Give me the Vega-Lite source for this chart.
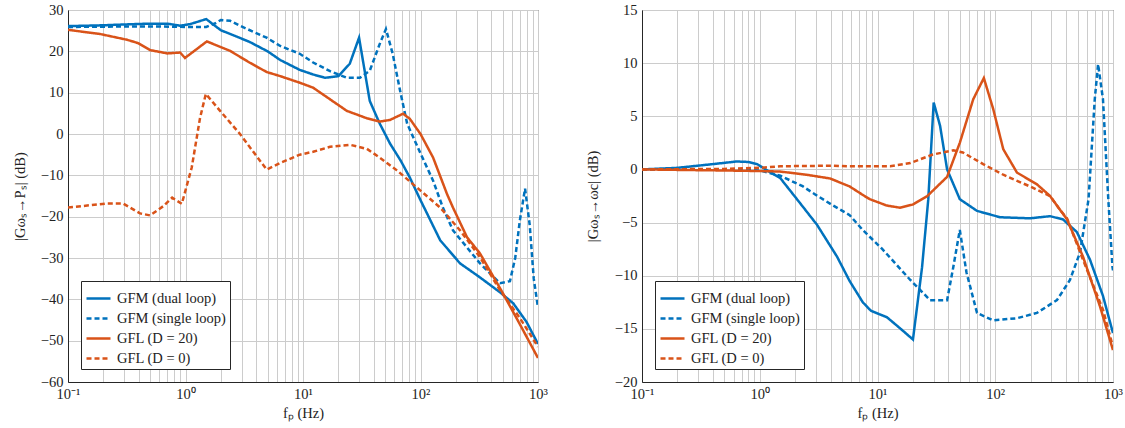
{
  "$schema": "https://vega.github.io/schema/vega-lite/v6.json",
  "background": "white",
  "autosize": {"type": "none"},
  "padding": {"left": 68, "top": 10, "right": 1057, "bottom": 418},
  "bounds": "flush",
  "spacing": 104,
  "config": {
    "font": "Liberation Serif",
    "view": {"stroke": "#262626", "strokeWidth": 1},
    "axis": {
      "labelFont": "Liberation Serif", "labelFontSize": 14.5, "labelColor": "#222222",
      "titleFont": "Liberation Serif", "titleFontSize": 14.5, "titleFontWeight": "normal", "titleColor": "#222222",
      "gridColor": "#cccccc", "gridWidth": 1, "gridOpacity": 1,
      "domainColor": "#262626", "ticks": false, "labelPadding": 5
    },
    "legend": {
      "orient": "bottom-left", "offset": 13, "padding": 4,
      "strokeColor": "#262626", "fillColor": "white", "cornerRadius": 0,
      "symbolType": "stroke", "symbolStrokeWidth": 3, "symbolSize": 576,
      "labelFont": "Liberation Serif", "labelFontSize": 14.5, "labelColor": "#222222",
      "labelOffset": 5, "rowPadding": -5, "title": null
    },
    "line": {"strokeWidth": 2.5}
  },
  "datasets": {
    "left": [
      {"series": "GFM (dual loop)", "f": 0.1, "db": 26.1},
      {"series": "GFM (dual loop)", "f": 0.2, "db": 26.3},
      {"series": "GFM (dual loop)", "f": 0.3, "db": 26.5},
      {"series": "GFM (dual loop)", "f": 0.5, "db": 26.7},
      {"series": "GFM (dual loop)", "f": 0.7, "db": 26.7},
      {"series": "GFM (dual loop)", "f": 0.9, "db": 26.2},
      {"series": "GFM (dual loop)", "f": 1.1, "db": 26.6},
      {"series": "GFM (dual loop)", "f": 1.5, "db": 27.8},
      {"series": "GFM (dual loop)", "f": 2.0, "db": 25.1},
      {"series": "GFM (dual loop)", "f": 2.5, "db": 24.0},
      {"series": "GFM (dual loop)", "f": 3.5, "db": 22.3},
      {"series": "GFM (dual loop)", "f": 5, "db": 20.0},
      {"series": "GFM (dual loop)", "f": 6.4, "db": 17.9},
      {"series": "GFM (dual loop)", "f": 9.4, "db": 15.5},
      {"series": "GFM (dual loop)", "f": 12.2, "db": 14.4},
      {"series": "GFM (dual loop)", "f": 15.4, "db": 13.6},
      {"series": "GFM (dual loop)", "f": 20, "db": 14.0},
      {"series": "GFM (dual loop)", "f": 25, "db": 17.0},
      {"series": "GFM (dual loop)", "f": 30, "db": 23.3},
      {"series": "GFM (dual loop)", "f": 37, "db": 8.0},
      {"series": "GFM (dual loop)", "f": 45, "db": 2.5},
      {"series": "GFM (dual loop)", "f": 55, "db": -2.3},
      {"series": "GFM (dual loop)", "f": 68, "db": -6.5},
      {"series": "GFM (dual loop)", "f": 81, "db": -10.5},
      {"series": "GFM (dual loop)", "f": 100, "db": -16},
      {"series": "GFM (dual loop)", "f": 147, "db": -25.7},
      {"series": "GFM (dual loop)", "f": 217, "db": -31.3},
      {"series": "GFM (dual loop)", "f": 321, "db": -34.7},
      {"series": "GFM (dual loop)", "f": 475, "db": -38.3},
      {"series": "GFM (dual loop)", "f": 617, "db": -41},
      {"series": "GFM (dual loop)", "f": 800, "db": -45.5},
      {"series": "GFM (dual loop)", "f": 1000, "db": -50.8},

      {"series": "GFM (single loop)", "f": 0.1, "db": 25.9},
      {"series": "GFM (single loop)", "f": 0.3, "db": 26.0},
      {"series": "GFM (single loop)", "f": 0.6, "db": 26.0},
      {"series": "GFM (single loop)", "f": 1.0, "db": 25.9},
      {"series": "GFM (single loop)", "f": 1.5, "db": 25.9},
      {"series": "GFM (single loop)", "f": 1.8, "db": 26.8},
      {"series": "GFM (single loop)", "f": 2.0, "db": 27.6},
      {"series": "GFM (single loop)", "f": 2.4, "db": 27.4},
      {"series": "GFM (single loop)", "f": 2.9, "db": 26.2},
      {"series": "GFM (single loop)", "f": 4.9, "db": 23.3},
      {"series": "GFM (single loop)", "f": 6.4, "db": 21.3},
      {"series": "GFM (single loop)", "f": 9.4, "db": 19.4},
      {"series": "GFM (single loop)", "f": 12.2, "db": 17.3},
      {"series": "GFM (single loop)", "f": 17, "db": 15.2},
      {"series": "GFM (single loop)", "f": 23.6, "db": 13.6},
      {"series": "GFM (single loop)", "f": 30.5, "db": 13.6},
      {"series": "GFM (single loop)", "f": 37, "db": 15.3},
      {"series": "GFM (single loop)", "f": 45, "db": 21.8},
      {"series": "GFM (single loop)", "f": 50.8, "db": 25.4},
      {"series": "GFM (single loop)", "f": 58, "db": 19.4},
      {"series": "GFM (single loop)", "f": 67, "db": 10.5},
      {"series": "GFM (single loop)", "f": 77, "db": 2.5},
      {"series": "GFM (single loop)", "f": 100, "db": -4.7},
      {"series": "GFM (single loop)", "f": 128, "db": -11.3},
      {"series": "GFM (single loop)", "f": 155, "db": -17.8},
      {"series": "GFM (single loop)", "f": 189, "db": -23.3},
      {"series": "GFM (single loop)", "f": 321, "db": -31.3},
      {"series": "GFM (single loop)", "f": 475, "db": -36.1},
      {"series": "GFM (single loop)", "f": 577, "db": -35.6},
      {"series": "GFM (single loop)", "f": 640, "db": -30},
      {"series": "GFM (single loop)", "f": 700, "db": -21},
      {"series": "GFM (single loop)", "f": 776, "db": -13.2},
      {"series": "GFM (single loop)", "f": 850, "db": -22},
      {"series": "GFM (single loop)", "f": 920, "db": -35},
      {"series": "GFM (single loop)", "f": 1000, "db": -42},

      {"series": "GFL (D = 20)", "f": 0.1, "db": 25.2},
      {"series": "GFL (D = 20)", "f": 0.187, "db": 24.2},
      {"series": "GFL (D = 20)", "f": 0.318, "db": 22.8},
      {"series": "GFL (D = 20)", "f": 0.394, "db": 22.0},
      {"series": "GFL (D = 20)", "f": 0.5, "db": 20.3},
      {"series": "GFL (D = 20)", "f": 0.7, "db": 19.5},
      {"series": "GFL (D = 20)", "f": 0.9, "db": 19.7},
      {"series": "GFL (D = 20)", "f": 0.99, "db": 18.4},
      {"series": "GFL (D = 20)", "f": 1.52, "db": 22.4},
      {"series": "GFL (D = 20)", "f": 2.4, "db": 20.1},
      {"series": "GFL (D = 20)", "f": 3.5, "db": 17.3},
      {"series": "GFL (D = 20)", "f": 4.9, "db": 15.0},
      {"series": "GFL (D = 20)", "f": 6.4, "db": 14.0},
      {"series": "GFL (D = 20)", "f": 9.4, "db": 12.4},
      {"series": "GFL (D = 20)", "f": 12.2, "db": 11.2},
      {"series": "GFL (D = 20)", "f": 23.6, "db": 5.6},
      {"series": "GFL (D = 20)", "f": 35, "db": 3.8},
      {"series": "GFL (D = 20)", "f": 45, "db": 3.0},
      {"series": "GFL (D = 20)", "f": 55, "db": 3.4},
      {"series": "GFL (D = 20)", "f": 71, "db": 4.9},
      {"series": "GFL (D = 20)", "f": 81, "db": 3.7},
      {"series": "GFL (D = 20)", "f": 100, "db": 0},
      {"series": "GFL (D = 20)", "f": 128, "db": -5.7},
      {"series": "GFL (D = 20)", "f": 168, "db": -14.5},
      {"series": "GFL (D = 20)", "f": 189, "db": -17.8},
      {"series": "GFL (D = 20)", "f": 249, "db": -25},
      {"series": "GFL (D = 20)", "f": 321, "db": -28.9},
      {"series": "GFL (D = 20)", "f": 502, "db": -38.5},
      {"series": "GFL (D = 20)", "f": 700, "db": -46},
      {"series": "GFL (D = 20)", "f": 1000, "db": -54.2},

      {"series": "GFL (D = 0)", "f": 0.1, "db": -17.8},
      {"series": "GFL (D = 0)", "f": 0.215, "db": -16.8},
      {"series": "GFL (D = 0)", "f": 0.294, "db": -16.8},
      {"series": "GFL (D = 0)", "f": 0.41, "db": -19.2},
      {"series": "GFL (D = 0)", "f": 0.5, "db": -19.7},
      {"series": "GFL (D = 0)", "f": 0.644, "db": -17.5},
      {"series": "GFL (D = 0)", "f": 0.77, "db": -15.4},
      {"series": "GFL (D = 0)", "f": 0.93, "db": -16.9},
      {"series": "GFL (D = 0)", "f": 1.13, "db": -8.1},
      {"series": "GFL (D = 0)", "f": 1.33, "db": 3.9},
      {"series": "GFL (D = 0)", "f": 1.49, "db": 9.7},
      {"series": "GFL (D = 0)", "f": 1.97, "db": 5.6},
      {"series": "GFL (D = 0)", "f": 2.91, "db": 0},
      {"series": "GFL (D = 0)", "f": 4.9, "db": -8.6},
      {"series": "GFL (D = 0)", "f": 6.4, "db": -7.0},
      {"series": "GFL (D = 0)", "f": 9.4, "db": -5.0},
      {"series": "GFL (D = 0)", "f": 12.2, "db": -4.3},
      {"series": "GFL (D = 0)", "f": 17, "db": -3.1},
      {"series": "GFL (D = 0)", "f": 25, "db": -2.6},
      {"series": "GFL (D = 0)", "f": 35, "db": -3.6},
      {"series": "GFL (D = 0)", "f": 45, "db": -5.7},
      {"series": "GFL (D = 0)", "f": 63, "db": -8.8},
      {"series": "GFL (D = 0)", "f": 100, "db": -13.7},
      {"series": "GFL (D = 0)", "f": 147, "db": -17.8},
      {"series": "GFL (D = 0)", "f": 217, "db": -23.3},
      {"series": "GFL (D = 0)", "f": 321, "db": -29.8},
      {"series": "GFL (D = 0)", "f": 475, "db": -37.8},
      {"series": "GFL (D = 0)", "f": 700, "db": -44.5},
      {"series": "GFL (D = 0)", "f": 1000, "db": -51.5}
    ],
    "right": [
      {"series": "GFM (dual loop)", "f": 0.1, "db": 0},
      {"series": "GFM (dual loop)", "f": 0.2, "db": 0.15},
      {"series": "GFM (dual loop)", "f": 0.4, "db": 0.5},
      {"series": "GFM (dual loop)", "f": 0.64, "db": 0.75},
      {"series": "GFM (dual loop)", "f": 0.8, "db": 0.7},
      {"series": "GFM (dual loop)", "f": 0.95, "db": 0.5},
      {"series": "GFM (dual loop)", "f": 1.2, "db": -0.2},
      {"series": "GFM (dual loop)", "f": 1.49, "db": -0.8},
      {"series": "GFM (dual loop)", "f": 2.07, "db": -2.8},
      {"series": "GFM (dual loop)", "f": 3.06, "db": -5.2},
      {"series": "GFM (dual loop)", "f": 4.53, "db": -8.2},
      {"series": "GFM (dual loop)", "f": 5.8, "db": -10.5},
      {"series": "GFM (dual loop)", "f": 7.5, "db": -12.5},
      {"series": "GFM (dual loop)", "f": 8.8, "db": -13.3},
      {"series": "GFM (dual loop)", "f": 12, "db": -13.9},
      {"series": "GFM (dual loop)", "f": 15, "db": -14.8},
      {"series": "GFM (dual loop)", "f": 20, "db": -16.0},
      {"series": "GFM (dual loop)", "f": 23.9, "db": -9.2},
      {"series": "GFM (dual loop)", "f": 27, "db": -2.8},
      {"series": "GFM (dual loop)", "f": 30, "db": 6.3},
      {"series": "GFM (dual loop)", "f": 34, "db": 4.1},
      {"series": "GFM (dual loop)", "f": 39, "db": 0},
      {"series": "GFM (dual loop)", "f": 50, "db": -2.8},
      {"series": "GFM (dual loop)", "f": 70, "db": -3.9},
      {"series": "GFM (dual loop)", "f": 110, "db": -4.5},
      {"series": "GFM (dual loop)", "f": 197, "db": -4.6},
      {"series": "GFM (dual loop)", "f": 292, "db": -4.4},
      {"series": "GFM (dual loop)", "f": 376, "db": -4.7},
      {"series": "GFM (dual loop)", "f": 494, "db": -5.9},
      {"series": "GFM (dual loop)", "f": 638, "db": -8.5},
      {"series": "GFM (dual loop)", "f": 822, "db": -11.9},
      {"series": "GFM (dual loop)", "f": 1000, "db": -15.4},

      {"series": "GFM (single loop)", "f": 0.1, "db": 0},
      {"series": "GFM (single loop)", "f": 0.5, "db": 0},
      {"series": "GFM (single loop)", "f": 1.0, "db": -0.1},
      {"series": "GFM (single loop)", "f": 1.5, "db": -0.6},
      {"series": "GFM (single loop)", "f": 2.33, "db": -1.6},
      {"series": "GFM (single loop)", "f": 3.0, "db": -2.4},
      {"series": "GFM (single loop)", "f": 4.2, "db": -3.4},
      {"series": "GFM (single loop)", "f": 5.8, "db": -4.3},
      {"series": "GFM (single loop)", "f": 7.5, "db": -5.7},
      {"series": "GFM (single loop)", "f": 11, "db": -7.5},
      {"series": "GFM (single loop)", "f": 19, "db": -10.4},
      {"series": "GFM (single loop)", "f": 28, "db": -12.3},
      {"series": "GFM (single loop)", "f": 39, "db": -12.3},
      {"series": "GFM (single loop)", "f": 44, "db": -9.2},
      {"series": "GFM (single loop)", "f": 50, "db": -5.7},
      {"series": "GFM (single loop)", "f": 57, "db": -9.7},
      {"series": "GFM (single loop)", "f": 70, "db": -13.5},
      {"series": "GFM (single loop)", "f": 96, "db": -14.2},
      {"series": "GFM (single loop)", "f": 153, "db": -14.0},
      {"series": "GFM (single loop)", "f": 226, "db": -13.5},
      {"series": "GFM (single loop)", "f": 334, "db": -12.3},
      {"series": "GFM (single loop)", "f": 431, "db": -10.4},
      {"series": "GFM (single loop)", "f": 525, "db": -7.8},
      {"series": "GFM (single loop)", "f": 620, "db": -2.8},
      {"series": "GFM (single loop)", "f": 700, "db": 6.6},
      {"series": "GFM (single loop)", "f": 747, "db": 9.9},
      {"series": "GFM (single loop)", "f": 822, "db": 6.6},
      {"series": "GFM (single loop)", "f": 912, "db": -2.8},
      {"series": "GFM (single loop)", "f": 990, "db": -9.2},
      {"series": "GFM (single loop)", "f": 1000, "db": -9.5},

      {"series": "GFL (D = 20)", "f": 0.1, "db": 0},
      {"series": "GFL (D = 20)", "f": 0.5, "db": -0.1},
      {"series": "GFL (D = 20)", "f": 1.0, "db": -0.15},
      {"series": "GFL (D = 20)", "f": 1.49, "db": -0.2},
      {"series": "GFL (D = 20)", "f": 2.5, "db": -0.5},
      {"series": "GFL (D = 20)", "f": 3.95, "db": -0.85},
      {"series": "GFL (D = 20)", "f": 5.8, "db": -1.6},
      {"series": "GFL (D = 20)", "f": 7.5, "db": -2.4},
      {"series": "GFL (D = 20)", "f": 8.6, "db": -2.8},
      {"series": "GFL (D = 20)", "f": 12, "db": -3.4},
      {"series": "GFL (D = 20)", "f": 15.5, "db": -3.6},
      {"series": "GFL (D = 20)", "f": 20, "db": -3.3},
      {"series": "GFL (D = 20)", "f": 26.5, "db": -2.5},
      {"series": "GFL (D = 20)", "f": 39, "db": -0.7},
      {"series": "GFL (D = 20)", "f": 50, "db": 2.5},
      {"series": "GFL (D = 20)", "f": 65, "db": 6.6},
      {"series": "GFL (D = 20)", "f": 80, "db": 8.6},
      {"series": "GFL (D = 20)", "f": 96, "db": 5.7},
      {"series": "GFL (D = 20)", "f": 117, "db": 1.9},
      {"series": "GFL (D = 20)", "f": 153, "db": -0.3},
      {"series": "GFL (D = 20)", "f": 226, "db": -1.4},
      {"series": "GFL (D = 20)", "f": 292, "db": -2.5},
      {"series": "GFL (D = 20)", "f": 355, "db": -3.8},
      {"series": "GFL (D = 20)", "f": 407, "db": -4.7},
      {"series": "GFL (D = 20)", "f": 556, "db": -8.2},
      {"series": "GFL (D = 20)", "f": 776, "db": -12.9},
      {"series": "GFL (D = 20)", "f": 1000, "db": -17},

      {"series": "GFL (D = 0)", "f": 0.1, "db": 0},
      {"series": "GFL (D = 0)", "f": 0.5, "db": 0.05},
      {"series": "GFL (D = 0)", "f": 1.0, "db": 0.15},
      {"series": "GFL (D = 0)", "f": 1.49, "db": 0.3},
      {"series": "GFL (D = 0)", "f": 4.2, "db": 0.35},
      {"series": "GFL (D = 0)", "f": 5.8, "db": 0.3},
      {"series": "GFL (D = 0)", "f": 12.8, "db": 0.3},
      {"series": "GFL (D = 0)", "f": 19, "db": 0.6},
      {"series": "GFL (D = 0)", "f": 29.5, "db": 1.4},
      {"series": "GFL (D = 0)", "f": 44, "db": 1.8},
      {"series": "GFL (D = 0)", "f": 53, "db": 1.6},
      {"series": "GFL (D = 0)", "f": 79, "db": 0.5},
      {"series": "GFL (D = 0)", "f": 117, "db": -0.5},
      {"series": "GFL (D = 0)", "f": 197, "db": -1.6},
      {"series": "GFL (D = 0)", "f": 292, "db": -2.5},
      {"series": "GFL (D = 0)", "f": 355, "db": -3.8},
      {"series": "GFL (D = 0)", "f": 407, "db": -4.6},
      {"series": "GFL (D = 0)", "f": 556, "db": -8.5},
      {"series": "GFL (D = 0)", "f": 822, "db": -13.2},
      {"series": "GFL (D = 0)", "f": 1000, "db": -16.7}
    ]
  },
  "resolve": {"scale": {"color": "independent", "strokeDash": "independent"}, "legend": {"color": "independent", "strokeDash": "independent"}},
  "hconcat": [
    {
      "width": 470, "height": 372,
      "data": {"name": "left"},
      "mark": {"type": "line", "strokeWidth": 2.5, "clip": true},
      "encoding": {
        "x": {"field": "f", "type": "quantitative",
          "scale": {"type": "log", "domain": [0.1, 1000], "nice": false},
          "axis": {"title": "fₚ (Hz)", "titleY": 24,
            "values": [0.1,0.2,0.3,0.4,0.5,0.6,0.7,0.8,0.9,1,2,3,4,5,6,7,8,9,10,20,30,40,50,60,70,80,90,100,200,300,400,500,600,700,800,900,1000],
            "labelExpr": "datum.value == 0.1 ? '10⁻¹' : datum.value == 1 ? '10⁰' : datum.value == 10 ? '10¹' : datum.value == 100 ? '10²' : datum.value == 1000 ? '10³' : ''",
            "labelOverlap": false, "labelFlush": false}},
        "y": {"field": "db", "type": "quantitative",
          "scale": {"domain": [-60, 30], "nice": false, "zero": false},
          "axis": {"title": "|Gωₛ→Pₛ| (dB)", "titleX": -41,
            "values": [-60,-50,-40,-30,-20,-10,0,10,20,30], "labelOverlap": false, "labelFlush": false}},
        "color": {"field": "series", "type": "nominal",
          "scale": {"domain": ["GFM (dual loop)", "GFM (single loop)", "GFL (D = 20)", "GFL (D = 0)"],
            "range": ["#0072BD", "#0072BD", "#D95319", "#D95319"]}},
        "strokeDash": {"field": "series", "type": "nominal",
          "scale": {"domain": ["GFM (dual loop)", "GFM (single loop)", "GFL (D = 20)", "GFL (D = 0)"],
            "range": [[1, 0], [5, 3], [1, 0], [5, 3]]}}
      }
    },
    {
      "width": 471, "height": 372,
      "data": {"name": "right"},
      "mark": {"type": "line", "strokeWidth": 2.5, "clip": true},
      "encoding": {
        "x": {"field": "f", "type": "quantitative",
          "scale": {"type": "log", "domain": [0.1, 1000], "nice": false},
          "axis": {"title": "fₚ (Hz)", "titleY": 24,
            "values": [0.1,0.2,0.3,0.4,0.5,0.6,0.7,0.8,0.9,1,2,3,4,5,6,7,8,9,10,20,30,40,50,60,70,80,90,100,200,300,400,500,600,700,800,900,1000],
            "labelExpr": "datum.value == 0.1 ? '10⁻¹' : datum.value == 1 ? '10⁰' : datum.value == 10 ? '10¹' : datum.value == 100 ? '10²' : datum.value == 1000 ? '10³' : ''",
            "labelOverlap": false, "labelFlush": false}},
        "y": {"field": "db", "type": "quantitative",
          "scale": {"domain": [-20, 15], "nice": false, "zero": false},
          "axis": {"title": "|Gωₛ→ωc| (dB)", "titleX": -42,
            "values": [-20,-15,-10,-5,0,5,10,15], "labelOverlap": false, "labelFlush": false}},
        "color": {"field": "series", "type": "nominal",
          "scale": {"domain": ["GFM (dual loop)", "GFM (single loop)", "GFL (D = 20)", "GFL (D = 0)"],
            "range": ["#0072BD", "#0072BD", "#D95319", "#D95319"]}},
        "strokeDash": {"field": "series", "type": "nominal",
          "scale": {"domain": ["GFM (dual loop)", "GFM (single loop)", "GFL (D = 20)", "GFL (D = 0)"],
            "range": [[1, 0], [5, 3], [1, 0], [5, 3]]}}
      }
    }
  ]
}
